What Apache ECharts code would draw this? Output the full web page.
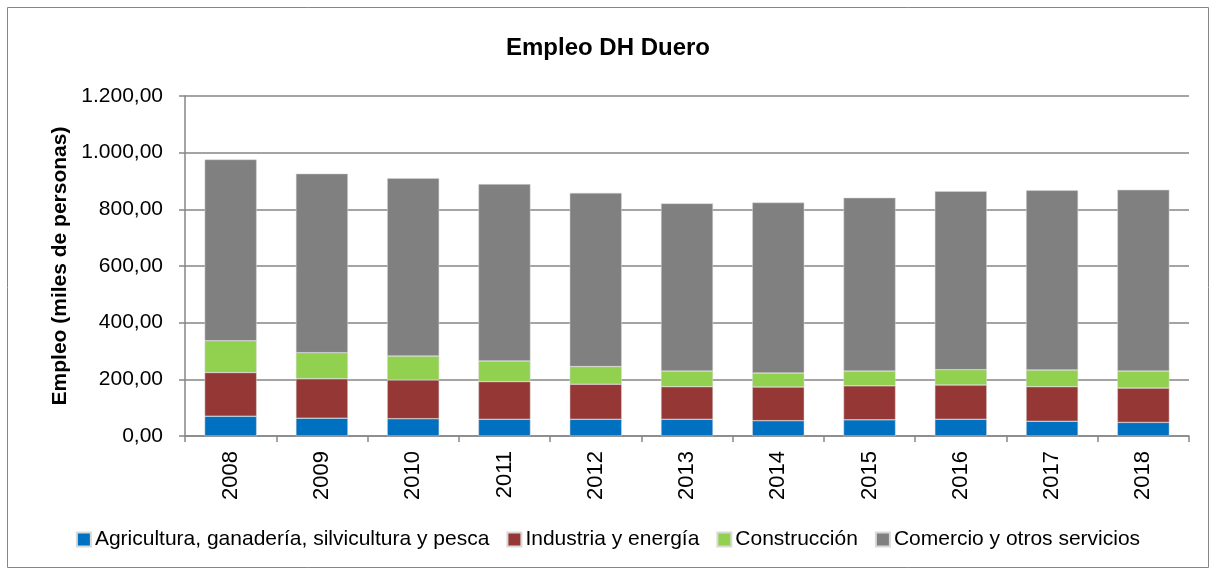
<!DOCTYPE html>
<html>
<head>
<meta charset="utf-8">
<script src="https://cdn.jsdelivr.net/npm/echarts@6/dist/echarts.min.js"></script>
<style>
  html, body { margin: 0; padding: 0; background: #fff; }
  #chart { width: 1216px; height: 574px; }
</style>
</head>
<body>
<div id="chart"></div>
<script>
// datos (miles de personas)
const years = ["2008", "2009", "2010", "2011", "2012", "2013", "2014", "2015", "2016", "2017", "2018"];
const agricultura = [70, 63, 61, 59, 59, 59, 54, 57, 59, 52, 48];
const industria = [154, 139, 137, 133, 124, 115, 119, 120, 121, 122, 121];
const construccion = [112, 92, 84, 73, 62, 55, 49, 52, 54, 59, 60];
const comercio = [640, 632, 628, 624, 613, 592, 602, 612, 630, 634, 640];
const seriesNames = [
  "Agricultura, ganadería, silvicultura y pesca",
  "Industria y energía",
  "Construcción",
  "Comercio y otros servicios"
];
const colors = ["#0070C0", "#953735", "#92D050", "#808080"];

const font = "Liberation Sans, Arial, sans-serif";

function fmt(v) {
  const parts = v.toFixed(2).split(".");
  parts[0] = parts[0].replace(/\B(?=(\d{3})+(?!\d))/g, ".");
  return parts[0] + "," + parts[1];
}

const chart = echarts.init(document.getElementById("chart"));
const data = [agricultura, industria, construccion, comercio];

chart.setOption({
  animation: false,
  textStyle: { fontFamily: font },
  graphic: [{
    type: "rect",
    shape: { x: 7.5, y: 7.5, width: 1201, height: 560 },
    style: { fill: "none", stroke: "#868686", lineWidth: 1 }
  }],
  title: {
    text: "Empleo DH Duero",
    left: "center",
    top: 31,
    textStyle: { fontFamily: font, fontSize: 24, fontWeight: "bold", color: "#000" }
  },
  legend: {
    bottom: 19,
    left: "center",
    itemWidth: 14,
    itemHeight: 14,
    itemGap: 17,
    icon: "rect",
    textStyle: { fontFamily: font, fontSize: 21, color: "#000", padding: [0, 0, 0, -1] },
    data: seriesNames
  },
  grid: { left: 185, right: 27, top: 96, bottom: 138 },
  xAxis: {
    type: "category",
    data: years,
    axisLine: { lineStyle: { color: "#868686", width: 1.5 } },
    axisTick: { show: true, length: 6, lineStyle: { color: "#868686", width: 1.5 } },
    axisLabel: { rotate: 90, fontSize: 22, color: "#000", margin: 15, fontFamily: font }
  },
  yAxis: {
    type: "value",
    min: 0,
    max: 1200,
    interval: 200,
    name: "Empleo (miles de personas)",
    nameLocation: "middle",
    nameGap: 111,
    nameTextStyle: { fontFamily: font, fontSize: 21, fontWeight: "bold", color: "#000" },
    axisLine: { show: true, lineStyle: { color: "#868686", width: 1.5 } },
    axisTick: { show: true, length: 6, lineStyle: { color: "#868686", width: 1.5 } },
    splitLine: { lineStyle: { color: "#868686", width: 1.5 } },
    axisLabel: { fontSize: 21, color: "#000", margin: 22, fontFamily: font, formatter: fmt }
  },
  series: seriesNames.map((n, i) => ({
    name: n,
    type: "bar",
    stack: "total",
    barWidth: 52,
    itemStyle: { color: colors[i], borderColor: "#d9d9d9", borderWidth: 0.5 },
    data: data[i]
  }))
});
</script>
</body>
</html>
